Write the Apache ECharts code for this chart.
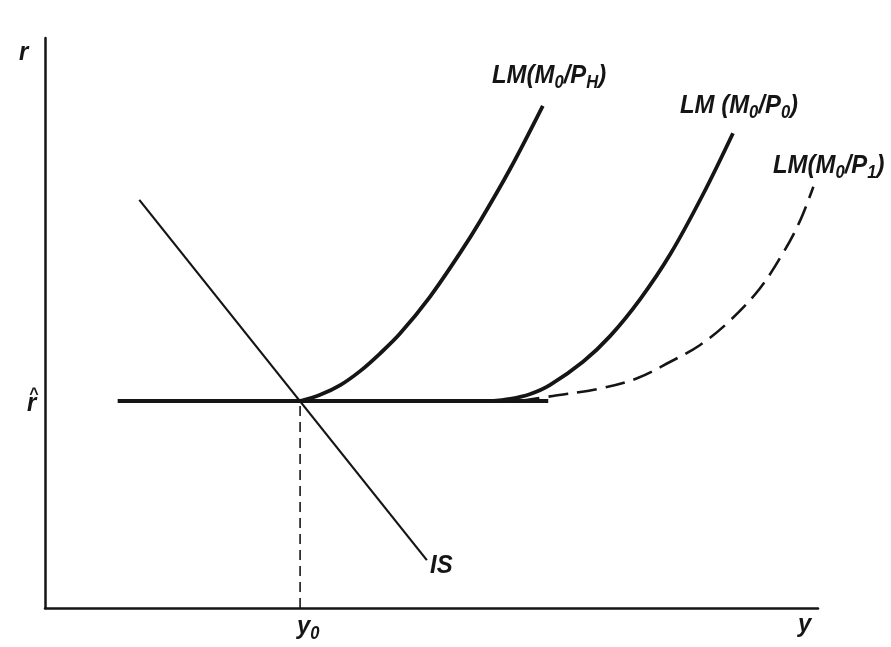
<!DOCTYPE html>
<html>
<head>
<meta charset="utf-8">
<script src="https://cdn.jsdelivr.net/npm/echarts@6/dist/echarts.min.js"></script>
<style>html,body{margin:0;padding:0;background:#fff;}#c{width:891px;height:647px;}</style>
</head>
<body>
<div id="c"></div>
<script>
// Data (axis units 0..100 on both axes)
const rHat = 36.3;          // liquidity-trap interest rate
const y0 = 33.0;            // equilibrium income
const flatX = [9.4, 65.1];  // horizontal segment of the LM curves
const isX = [12.2, 49.4];
const isY = [71.6, 8.4];
const lmHX = [33.0, 35.6, 38.2, 40.8, 43.3, 45.9, 49.8, 53.7, 56.3, 60.2, 64.4];
const lmHY = [36.3, 37.4, 39.1, 41.6, 44.6, 48.1, 54.6, 62.3, 67.9, 77.1, 88.1];
const lm0X = [57.6, 60.2, 62.7, 65.3, 69.6, 73.1, 77.0, 80.9, 85.1, 89.0];
const lm0Y = [36.3, 36.7, 37.5, 39.1, 43.2, 47.7, 54.2, 62.1, 72.5, 83.3];
const lm1X = [61.4, 65.7, 71.4, 76.6, 80.9, 84.7, 88.6, 92.5, 95.7, 97.7, 99.4];
const lm1Y = [36.3, 37.2, 38.4, 40.3, 43.2, 46.1, 50.4, 56.1, 62.8, 68.0, 73.9];

const zip = (xs, ys) => xs.map((x, i) => [x, ys[i]]);
const INK = '#151515';

const chart = echarts.init(document.getElementById('c'), null, {renderer: 'canvas'});
const axisCommon = {
  type: 'value', min: 0, max: 100,
  axisLine: {show: true, lineStyle: {color: INK, width: 2.5}},
  axisTick: {show: false}, axisLabel: {show: false}, splitLine: {show: false}
};
const lineBase = {type: 'line', symbol: 'none', silent: true, animation: false};

const mainFont = {fontFamily: 'Liberation Sans', fontStyle: 'italic', fontWeight: 'bold', fontSize: 26, lineHeight: 34, color: INK};
const subFont = {fontFamily: 'Liberation Sans', fontStyle: 'italic', fontWeight: 'bold', fontSize: 18, lineHeight: 18, verticalAlign: 'bottom', color: INK};
const rich = {n: mainFont, s: subFont};
function label(x, y, text, sx) {
  return {
    type: 'text', x: x, y: y, silent: true, scaleX: sx || 0.92,
    style: {text: text, rich: rich, fill: INK, verticalAlign: 'middle', align: 'left',
            font: 'italic bold 26px "Liberation Sans"'}
  };
}

chart.setOption({
  animation: false,
  grid: {left: 45, top: 38, width: 773, height: 570, containLabel: false},
  xAxis: axisCommon,
  yAxis: axisCommon,
  series: [
    Object.assign({}, lineBase, {name: 'flat', data: [[flatX[0], rHat], [flatX[1], rHat]],
      lineStyle: {color: INK, width: 4}}),
    Object.assign({}, lineBase, {name: 'IS', data: zip(isX, isY),
      lineStyle: {color: INK, width: 2.2}}),
    Object.assign({}, lineBase, {name: 'LM_H', data: zip(lmHX, lmHY), smooth: 0.35,
      lineStyle: {color: INK, width: 3.8}}),
    Object.assign({}, lineBase, {name: 'LM_0', data: zip(lm0X, lm0Y), smooth: 0.35,
      lineStyle: {color: INK, width: 3.8}}),
    Object.assign({}, lineBase, {name: 'LM_1', data: zip(lm1X, lm1Y), smooth: 0.35,
      lineStyle: {color: INK, width: 2.6, type: [20, 9]}}),
    Object.assign({}, lineBase, {name: 'y0', data: [[y0, 0], [y0, rHat]],
      lineStyle: {color: INK, width: 1.6, type: [10, 6]}})
  ],
  graphic: [
    label(492, 75.5, '{n|LM(M}{s|0}{n|/P}{s|H}{n|)}'),
    label(680, 105.5, '{n|LM (M}{s|0}{n|/P}{s|0}{n|)}'),
    label(773, 165.5, '{n|LM(M}{s|0}{n|/P}{s|1}{n|)}'),
    label(430, 565.5, '{n|IS}'),
    label(297, 626.5, '{n|y}{s|0}'),
    label(798, 625, '{n|y}'),
    label(19, 52.5, '{n|r}'),
    label(27, 403.5, '{n|r}'),
    {type: 'text', x: 29, y: 395, silent: true,
     style: {text: '^', fill: INK, font: 'italic bold 16px "Liberation Sans"', verticalAlign: 'middle'}}
  ]
});
</script>
</body>
</html>
